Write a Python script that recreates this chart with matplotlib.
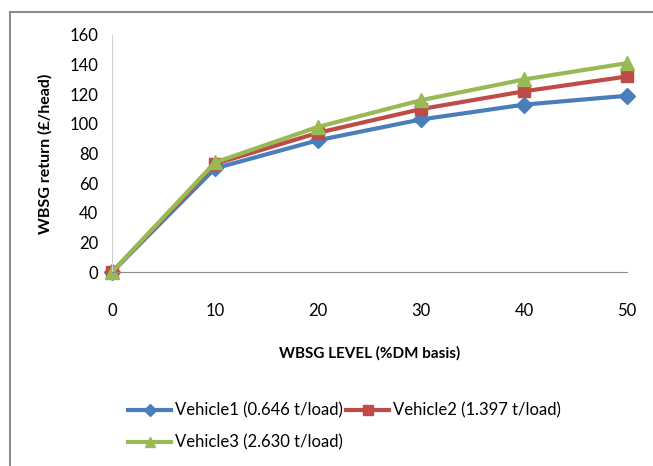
import matplotlib.pyplot as plt
from matplotlib.lines import Line2D

plt.rcParams['font.family'] = ['Lato', 'DejaVu Sans']

# WBSG level (% DM basis) and returns (£/head)
levels = [0, 10, 20, 30, 40, 50]
vehicle1 = [0, 70, 89, 103, 113, 119]
vehicle2 = [0, 73, 94, 110, 122, 132]
vehicle3 = [0, 74, 98, 116, 130, 141]
labels = ['Vehicle1 (0.646 t/load)', 'Vehicle2 (1.397 t/load)', 'Vehicle3 (2.630 t/load)']

fig = plt.figure(figsize=(6.53, 4.66), dpi=100)
ax = fig.add_axes([0.1715, 0.416, 0.789, 0.509])

l1, = ax.plot(levels, vehicle1, color='#4a7ebb', lw=3, marker='D', ms=8, label=labels[0])
l2, = ax.plot(levels, vehicle2, color='#be4b48', lw=3, marker='s', ms=9, label=labels[1])
l3, = ax.plot(levels, vehicle3, color='#98b954', lw=3, marker='^', ms=10, label=labels[2])

ax.set_xlim(0, 50)
ax.set_ylim(0, 160)
ax.set_xticks(levels)
ax.set_yticks(range(0, 161, 20))
ax.tick_params(length=0, labelsize=12)
ax.tick_params(axis='y', pad=10)
ax.tick_params(axis='x', pad=22)
ax.spines['top'].set_visible(False)
ax.spines['right'].set_visible(False)
ax.spines['left'].set_color('#d0d0d0')
ax.spines['bottom'].set_color('#8c8c8c')
for line in ax.get_lines():
    line.set_clip_on(False)

ax.set_xlabel('WBSG LEVEL (%DM basis)', fontsize=11, fontweight='bold', labelpad=20)
ax.set_ylabel('WBSG return (£/head)', fontsize=11.5, fontweight='bold', labelpad=12)

# column-wise fill, so order gives rows: V1 V2 / V3
leg = ax.legend([l1, l3, l2], [labels[0], labels[2], labels[1]],
                loc='upper left', bbox_to_anchor=(0.031, -0.55), ncol=2, frameon=False,
                fontsize=12, handlelength=2.6, handletextpad=0.2, columnspacing=0.2,
                labelspacing=0.95, borderaxespad=0, borderpad=0, markerscale=0.75)

# outer frame
fig.add_artist(Line2D([10 / 653, 10 / 653], [0, 1 - 12 / 466], color='#8c8c8c', lw=1.5))
fig.add_artist(Line2D([10 / 653, 1], [1 - 12 / 466, 1 - 12 / 466], color='#8c8c8c', lw=1.5))

fig.savefig('out.png', dpi=100)
